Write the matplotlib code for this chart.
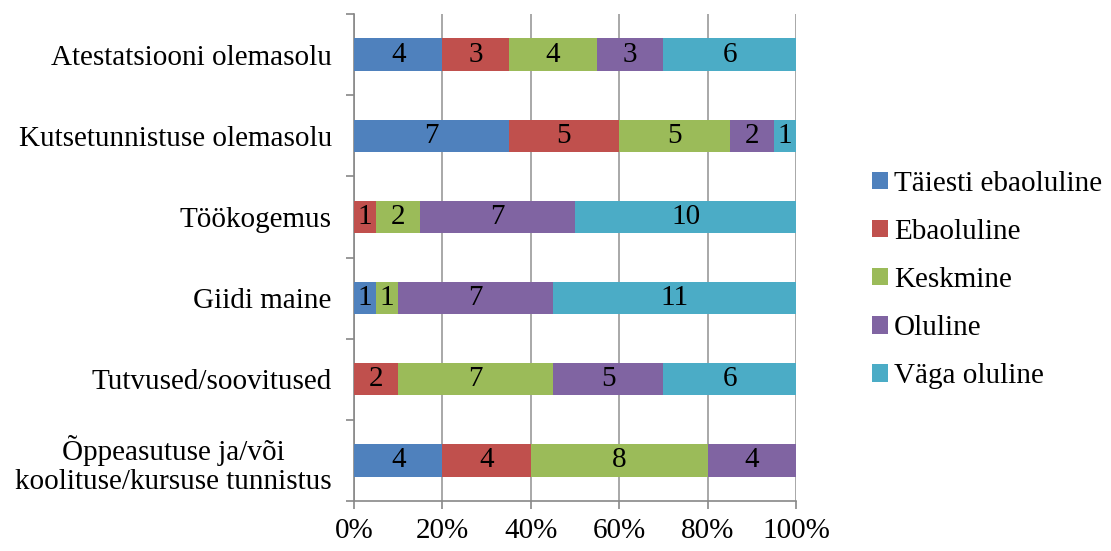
import matplotlib
matplotlib.use("Agg")
import matplotlib.pyplot as plt
import numpy as np

categories = [
    "Atestatsiooni olemasolu",
    "Kutsetunnistuse olemasolu",
    "Töökogemus",
    "Giidi maine",
    "Tutvused/soovitused",
    "Õppeasutuse ja/või\nkoolituse/kursuse tunnistus",
]
series_names = ["Täiesti ebaoluline", "Ebaoluline", "Keskmine", "Oluline", "Väga oluline"]
taiesti = [4, 7, 0, 1, 0, 4]
ebaoluline = [3, 5, 1, 0, 2, 4]
keskmine = [4, 5, 2, 1, 7, 8]
oluline = [3, 2, 7, 7, 5, 4]
vaga = [6, 1, 10, 11, 6, 0]
colors = ["#4F81BD", "#C0504D", "#9BBB59", "#8064A2", "#4BACC6"]
xticks = [0, 20, 40, 60, 80, 100]

plt.rcParams['font.family'] = ['Liberation Serif', 'DejaVu Serif']
FS = 21

fig = plt.figure(figsize=(11.11, 5.51), dpi=100)
W, H = 1111, 551
ax = fig.add_axes([354 / W, 1 - 501 / H, (796 - 354) / W, (501 - 14) / H])

data = np.array([taiesti, ebaoluline, keskmine, oluline, vaga], dtype=float)
totals = data.sum(axis=0)
pct = data / totals * 100
n = len(categories)
y = np.arange(n)[::-1]
left = np.zeros(n)
for i, name in enumerate(series_names):
    ax.barh(y, pct[i], left=left, height=0.4, color=colors[i], label=name, zorder=3)
    for j in range(n):
        if data[i, j] > 0:
            ax.text(left[j] + pct[i, j] / 2, y[j], f"{int(data[i, j])}", ha="center", va="center",
                    fontsize=FS, zorder=4)
    left += pct[i]

ax.set_xlim(0, 100)
ax.set_ylim(-0.5, n - 0.5)
ax.set_xticks(xticks)
ax.set_xticklabels([f"{t}%" for t in xticks], fontsize=FS)
ax.set_yticks(y)
ax.set_yticklabels(categories, fontsize=FS, linespacing=1.15)
ax.set_yticks(np.arange(-0.5, n, 1), minor=True)
ax.tick_params(axis='y', which='major', length=0, pad=16)
ax.tick_params(axis='y', which='minor', length=6, color='#888888', width=1.2)
ax.tick_params(axis='x', which='major', length=6, color='#888888', width=1.2, pad=6)
ax.grid(axis='x', color='#999999', linewidth=1.2, zorder=0)
for s in ['top', 'right']:
    ax.spines[s].set_visible(False)
for s in ['left', 'bottom']:
    ax.spines[s].set_color('#888888')
    ax.spines[s].set_linewidth(1.2)
for lab in ax.get_yticklabels():
    lab.set_horizontalalignment('right')
    lab.set_multialignment('center')

handles, labels = ax.get_legend_handles_labels()
fig.legend(handles, labels, loc='center left', bbox_to_anchor=(872 / W, 1 - 280 / H),
           frameon=False, fontsize=FS, handlelength=0.55, handleheight=0.55,
           handletextpad=0.2, labelspacing=0.76, borderpad=0, borderaxespad=0)

fig.savefig("out.png", dpi=100)
